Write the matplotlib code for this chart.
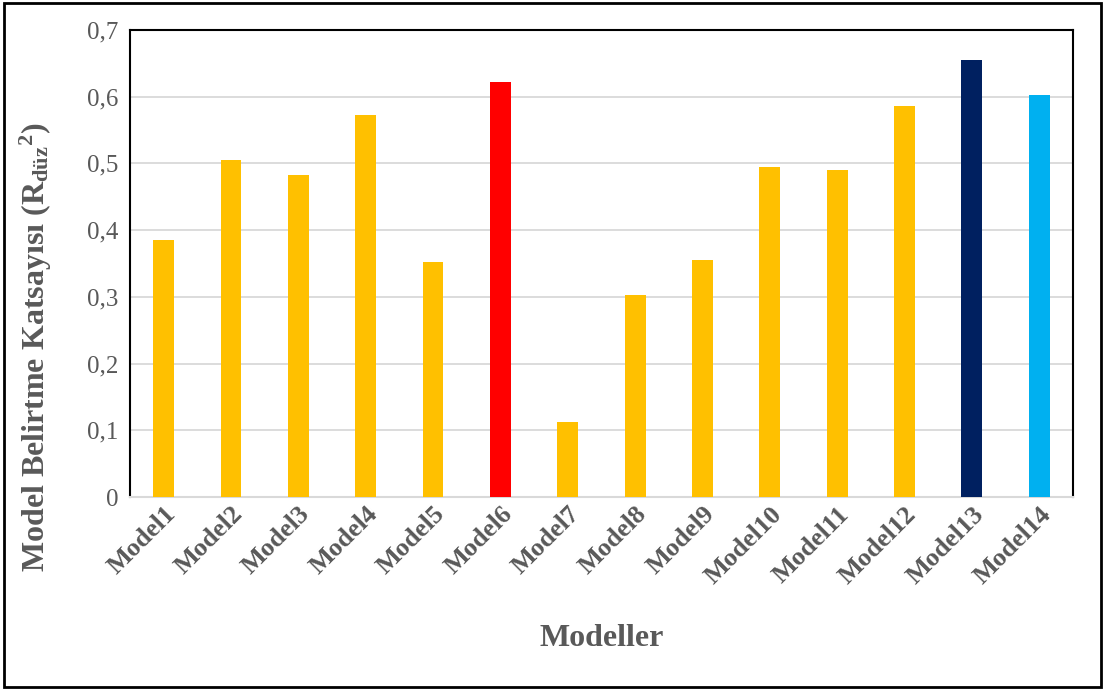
import matplotlib
matplotlib.use('Agg')
import matplotlib.pyplot as plt
from matplotlib.patches import Rectangle
import numpy as np

models = ['Model1', 'Model2', 'Model3', 'Model4', 'Model5', 'Model6', 'Model7',
          'Model8', 'Model9', 'Model10', 'Model11', 'Model12', 'Model13', 'Model14']
r2 = [0.385, 0.505, 0.483, 0.572, 0.352, 0.622, 0.113,
      0.303, 0.356, 0.494, 0.490, 0.586, 0.655, 0.603]
colors = ['#FFC000'] * 14
colors[5] = '#FF0000'
colors[12] = '#002060'
colors[13] = '#00B0F0'
yticks = [0, 0.1, 0.2, 0.3, 0.4, 0.5, 0.6, 0.7]

plt.rcParams['font.family'] = ['Liberation Serif', 'DejaVu Serif']
plt.rcParams['mathtext.fontset'] = 'custom'
plt.rcParams['mathtext.rm'] = 'Liberation Serif:bold'
plt.rcParams['mathtext.bf'] = 'Liberation Serif:bold'
plt.rcParams['mathtext.it'] = 'Liberation Serif:bold'
grey = '#595959'

fig = plt.figure(figsize=(11.05, 6.9), dpi=100)
ax = fig.add_axes([0.1176, 0.2797, 0.8534, 0.6768])

x = np.arange(len(models))
ax.bar(x, r2, width=0.31, color=colors, zorder=3)
ax.set_xlim(-0.5, len(models) - 0.5)
ax.set_ylim(0, 0.7)
ax.set_yticks(yticks)
ax.set_yticklabels([('%g' % v).replace('.', ',') for v in yticks], color=grey, fontsize=18)
ax.set_xticks(x)
ax.set_xticklabels(models, rotation=45, ha='right', rotation_mode='anchor',
                   fontsize=19, fontweight='bold', color=grey)
ax.tick_params(length=0)
ax.tick_params(axis='y', pad=8)
ax.tick_params(axis='x', pad=4)
ax.yaxis.grid(True, color='#D9D9D9', lw=1.3, zorder=0)
for s in ['left', 'top', 'right']:
    ax.spines[s].set_color('black')
    ax.spines[s].set_linewidth(1.5)
ax.spines['bottom'].set_color('#D9D9D9')
ax.spines['bottom'].set_linewidth(1.5)

ax.set_ylabel('Model Belirtme Katsayısı (R$_{düz}$$^{2}$)', fontsize=23,
              fontweight='bold', color=grey)
ax.yaxis.set_label_coords(-0.081, 0.32)
ax.set_xlabel('Modeller', fontsize=23, fontweight='bold', color=grey, labelpad=26)

fig.patches.append(Rectangle((0.004, 0.004), 0.992, 0.992, transform=fig.transFigure,
                             fill=False, edgecolor='black', lw=2))

plt.savefig('out.png', dpi=100)
